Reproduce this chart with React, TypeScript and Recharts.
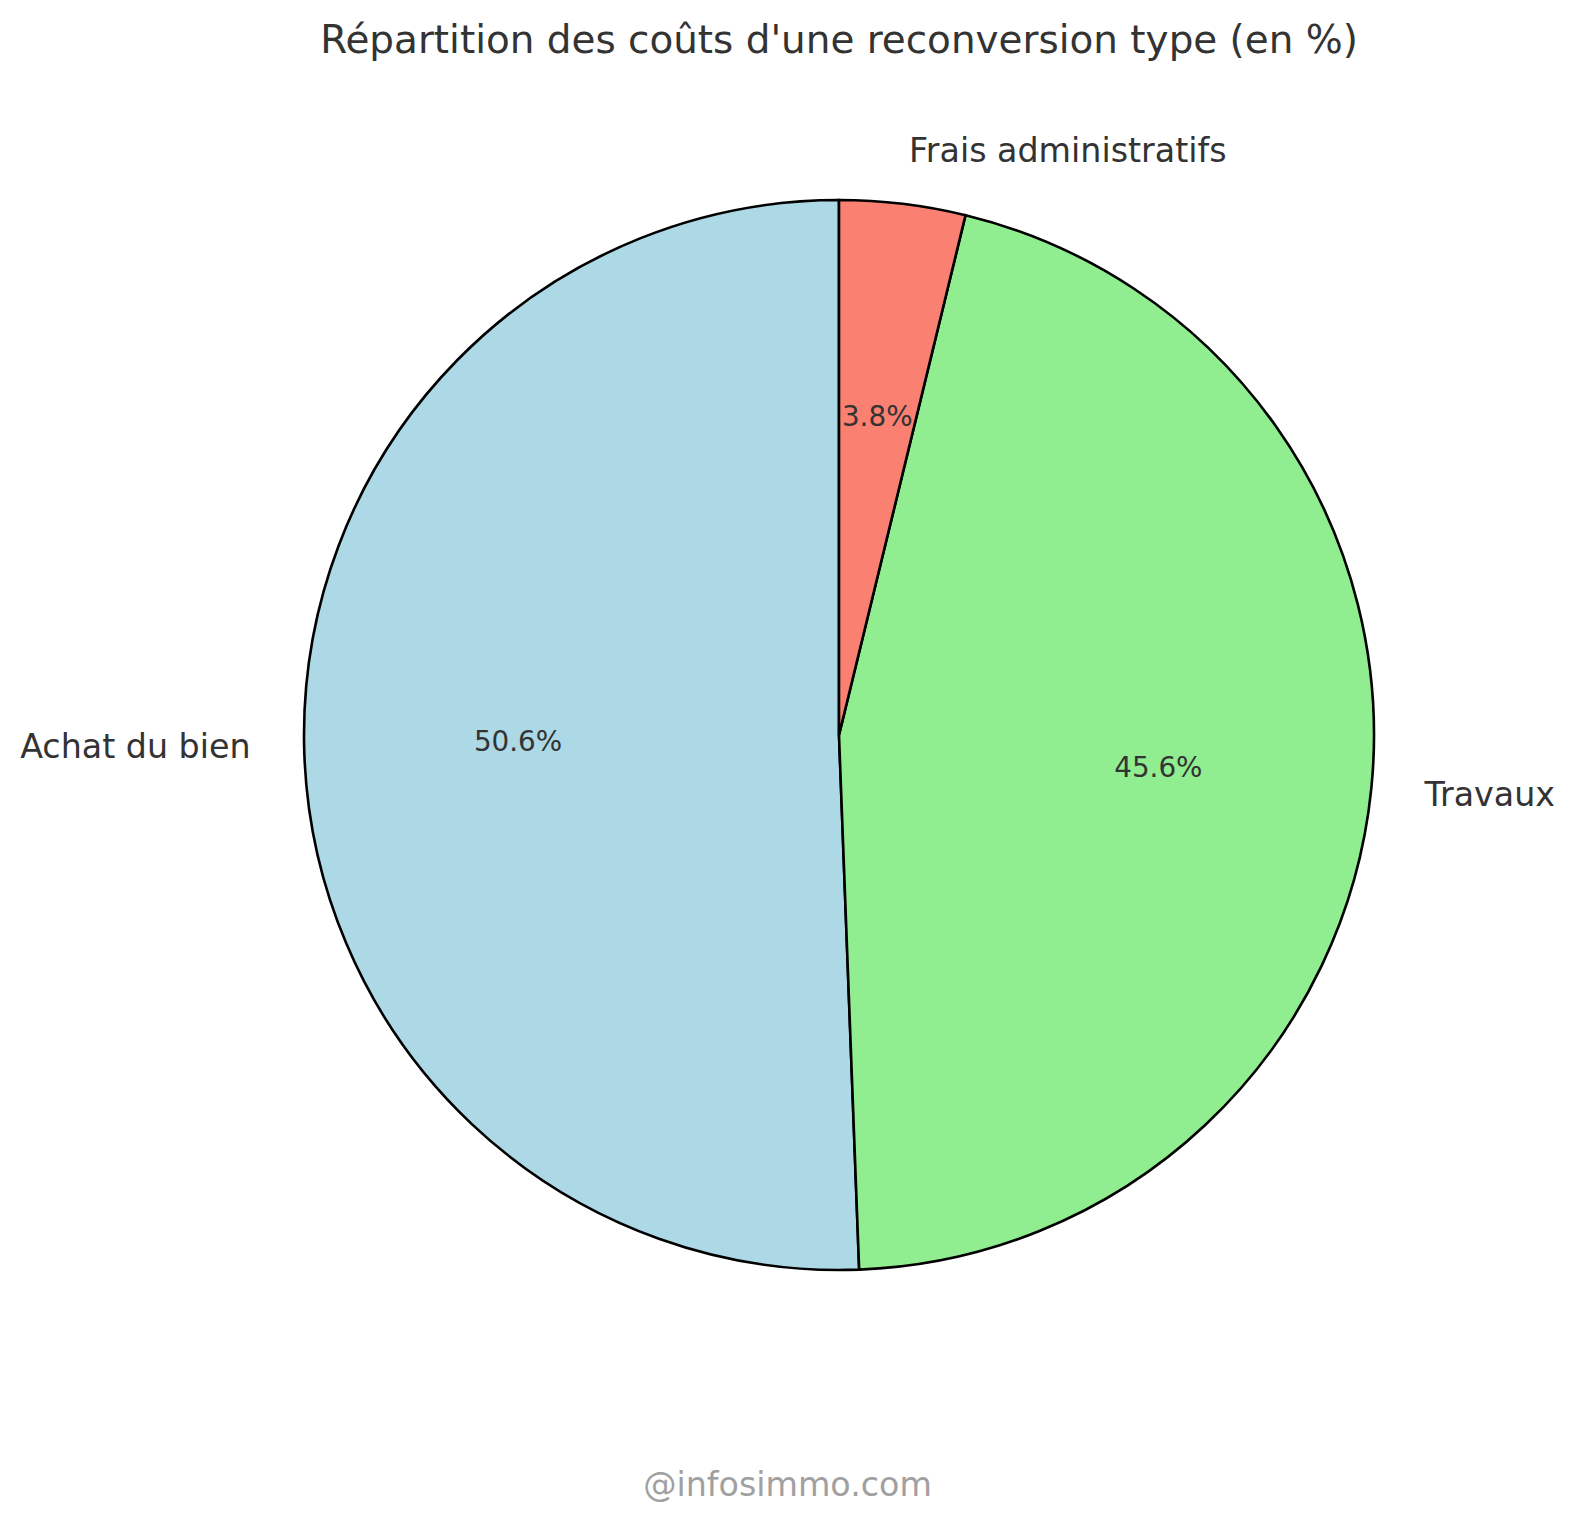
import { PieChart, Pie, Cell } from 'recharts';

const CATEGORIES = ['Achat du bien', 'Travaux', 'Frais administratifs'];
const SHARES = [50.6, 45.6, 3.8];
const COLORS = ['#ADD8E6', '#90EE90', '#FA8072'];

const TITLE = "Répartition des coûts d'une reconversion type (en %)";
const WATERMARK = '@infosimmo.com';

const RADIAN = Math.PI / 180;
const FONT = '"DejaVu Sans", Verdana, sans-serif';

const chartData = CATEGORIES.map((name, i) => ({ name, value: SHARES[i] }));

function renderLabel(props: any) {
    const { cx, cy, midAngle, outerRadius, percent, name } = props;
    const cos = Math.cos(-midAngle * RADIAN);
    const sin = Math.sin(-midAngle * RADIAN);
    // category label outside the pie, percentage inside
    const lx = cx + outerRadius * 1.1 * cos;
    const ly = cy + outerRadius * 1.1 * sin;
    const px = cx + outerRadius * 0.6 * cos;
    const py = cy + outerRadius * 0.6 * sin;
    return (
        <g>
            <text
                x={lx}
                y={ly}
                textAnchor={lx > cx ? 'start' : 'end'}
                dominantBaseline="central"
                fill="#333333"
                fontSize={33.3}
                fontFamily={FONT}
            >
                {name}
            </text>
            <text
                x={px}
                y={py}
                textAnchor="middle"
                dominantBaseline="central"
                fill="#333333"
                fontSize={27.8}
                fontFamily={FONT}
            >
                {(percent * 100).toFixed(1)}%
            </text>
        </g>
    );
}

export default function App() {
    return (
        <div style={{
            position: 'absolute',
            left: 0,
            top: 0,
            width: 1575,
            height: 1523,
            background: '#ffffff',
            fontFamily: FONT,
        }}>
            {/* Title, centred over the pie */}
            <div style={{
                position: 'absolute',
                left: 0,
                width: 1575,
                top: 17,
                textAlign: 'center',
                fontSize: '38.9px',
                lineHeight: '46px',
                color: '#333333',
                paddingLeft: 103,
                boxSizing: 'border-box',
                whiteSpace: 'nowrap',
            }}>
                {TITLE}
            </div>

            <PieChart width={1575} height={1523} margin={{ top: 0, right: 0, bottom: 0, left: 0 }}>
                <Pie
                    data={chartData}
                    dataKey="value"
                    nameKey="name"
                    cx={839}
                    cy={735}
                    outerRadius={535}
                    startAngle={90}
                    endAngle={450}
                    stroke="#000000"
                    strokeWidth={2.6}
                    label={renderLabel}
                    labelLine={false}
                    isAnimationActive={false}
                >
                    {chartData.map((d, i) => (
                        <Cell key={d.name} fill={COLORS[i]} />
                    ))}
                </Pie>
            </PieChart>

            {/* Watermark */}
            <div style={{
                position: 'absolute',
                left: 0,
                width: 1575,
                top: 1465,
                textAlign: 'center',
                fontSize: '33.3px',
                lineHeight: '40px',
                color: '#a0a0a0',
            }}>
                {WATERMARK}
            </div>
        </div>
    );
}
